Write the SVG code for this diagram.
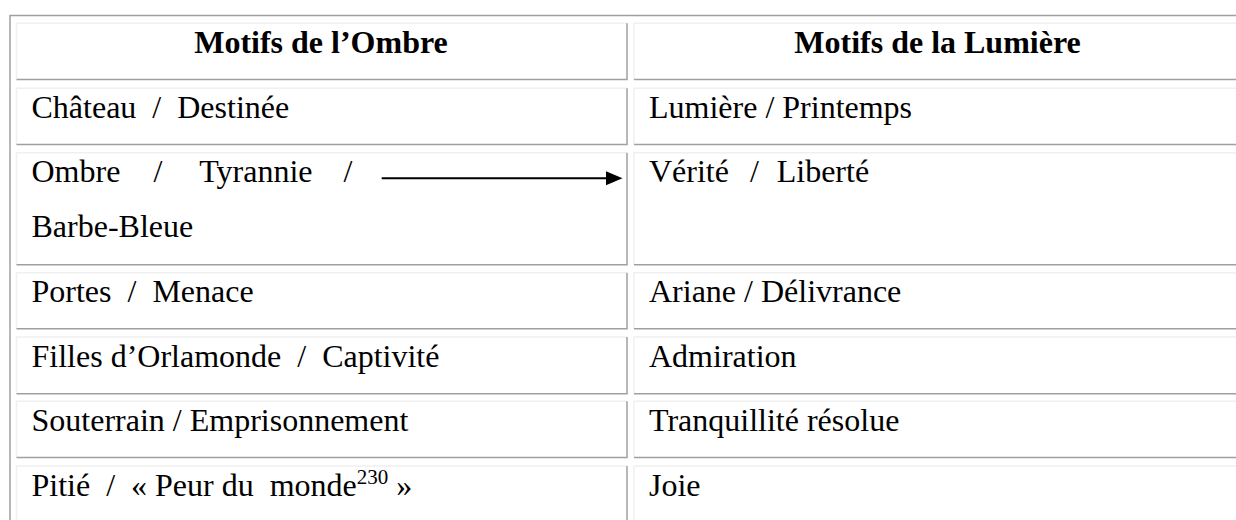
<svg xmlns="http://www.w3.org/2000/svg" width="1236" height="520" viewBox="0 0 1236 520">
<style>
.lt{fill:none;stroke:#f0f0f0;stroke-width:1.4}
.dk{fill:none;stroke:#a0a0a0;stroke-width:1.5}
.t{font-family:"Liberation Serif","Times New Roman",serif;font-size:32px;fill:#000;white-space:pre}
.h{font-family:"Liberation Serif","Times New Roman",serif;font-size:32px;font-weight:bold;fill:#000;text-anchor:middle}
</style>
<rect width="1236" height="520" fill="#fff"/>
<g id="table-frame">
<path class="dk" d="M10 521 V15.5 H1237"/>
</g>
<g id="h1"><path class="lt" d="M16.5 79.5 V23.3 H627"/><path class="dk" d="M627 23.3 V79.5 H16.5"/><text class="h" x="321" y="53">Motifs de l’Ombre</text></g>
<g id="h2"><path class="lt" d="M634 79.5 V23.3 H1241"/><path class="dk" d="M1241 23.3 V79.5 H634"/><text class="h" x="937.5" y="53">Motifs de la Lumière</text></g>
<g id="r1c1"><path class="lt" d="M16.5 144.5 V88.3 H627"/><path class="dk" d="M627 88.3 V144.5 H16.5"/><text class="t" x="31.5" y="118" xml:space="preserve">Château  /  Destinée</text></g>
<g id="r1c2"><path class="lt" d="M634 144.5 V88.3 H1241"/><path class="dk" d="M1241 88.3 V144.5 H634"/><text class="t" x="649" y="118">Lumière / Printemps</text></g>
<g id="r2c1"><path class="lt" d="M16.5 264.7 V152.7 H627"/><path class="dk" d="M627 152.7 V264.7 H16.5"/><text class="t" y="182.2"><tspan x="31.5">Ombre</tspan><tspan x="153.5">/</tspan><tspan x="199.3">Tyrannie</tspan><tspan x="343.5">/</tspan></text><text class="t" x="31.5" y="237">Barbe-Bleue</text></g>
<g id="r2c2"><path class="lt" d="M634 264.7 V152.7 H1241"/><path class="dk" d="M1241 152.7 V264.7 H634"/><text class="t" y="182.2"><tspan x="649">Vérité</tspan><tspan x="750">/</tspan><tspan x="776.7">Liberté</tspan></text></g>
<g id="r3c1"><path class="lt" d="M16.5 328.7 V272.7 H627"/><path class="dk" d="M627 272.7 V328.7 H16.5"/><text class="t" x="31.5" y="302.2" xml:space="preserve">Portes  /  Menace</text></g>
<g id="r3c2"><path class="lt" d="M634 328.7 V272.7 H1241"/><path class="dk" d="M1241 272.7 V328.7 H634"/><text class="t" x="649" y="302.2">Ariane / Délivrance</text></g>
<g id="r4c1"><path class="lt" d="M16.5 393.7 V337 H627"/><path class="dk" d="M627 337 V393.7 H16.5"/><text class="t" x="31.5" y="366.5" xml:space="preserve">Filles d’Orlamonde  /  Captivité</text></g>
<g id="r4c2"><path class="lt" d="M634 393.7 V337 H1241"/><path class="dk" d="M1241 337 V393.7 H634"/><text class="t" x="649" y="366.5">Admiration</text></g>
<g id="r5c1"><path class="lt" d="M16.5 457.5 V401.3 H627"/><path class="dk" d="M627 401.3 V457.5 H16.5"/><text class="t" x="31.5" y="430.8">Souterrain / Emprisonnement</text></g>
<g id="r5c2"><path class="lt" d="M634 457.5 V401.3 H1241"/><path class="dk" d="M1241 401.3 V457.5 H634"/><text class="t" x="649" y="430.8">Tranquillité résolue</text></g>
<g id="r6c1"><path class="lt" d="M16.5 530 V466 H627"/><path class="dk" d="M627 466 V530"/><text class="t" x="31.5" y="495.5" xml:space="preserve">Pitié  /  « Peur du  monde<tspan font-size="21" dy="-12">230</tspan><tspan dy="12"> »</tspan></text></g>
<g id="r6c2"><path class="lt" d="M634 530 V466 H1241"/><text class="t" x="649" y="495.5">Joie</text></g>
<g id="connectors">
<line x1="381.7" y1="178.3" x2="607" y2="178.3" stroke="#000" stroke-width="2"/>
<polygon points="606,171.3 622.5,178.3 606,185.3" fill="#000"/>
</g>
</svg>
